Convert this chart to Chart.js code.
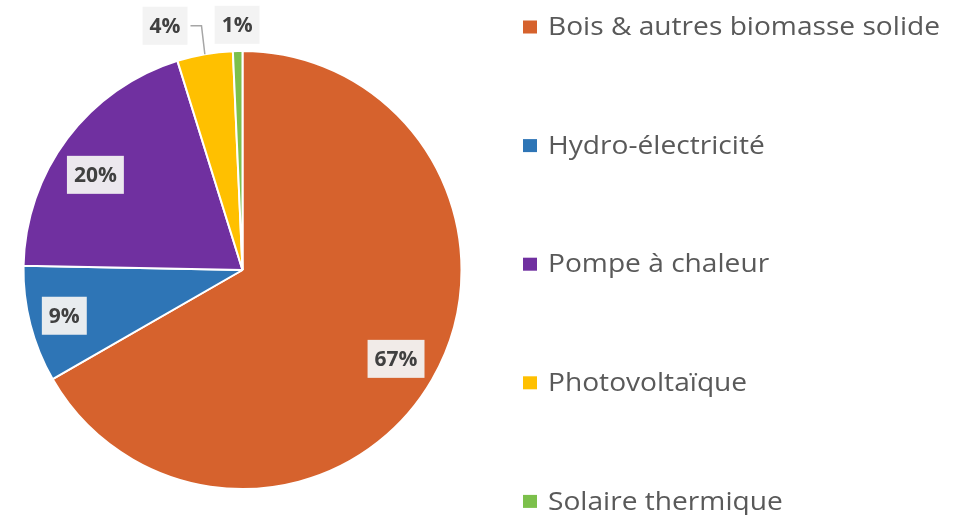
<!DOCTYPE html>
<html>
<head>
<meta charset="utf-8">
<script src="https://cdn.jsdelivr.net/npm/chart.js@4/dist/chart.umd.min.js"></script>
<style>
  html, body { margin: 0; padding: 0; background: #fff; }
  #wrap { width: 960px; height: 515px; }
</style>
</head>
<body>
<div id="wrap"><canvas id="pie" width="960" height="515"></canvas></div>
<script>
const categories = ["Bois & autres biomasse solide", "Hydro-électricité", "Pompe à chaleur", "Photovoltaïque", "Solaire thermique"];
const shares = [66.7, 8.6, 19.9, 4.1, 0.7];
const colors = ["#D6622D", "#2E75B6", "#7030A0", "#FFC000", "#7CC04B"];

// where each data label sits: fraction of radius, angle shift in degrees
const labelPlace = [
  { r: 0.81, da: 0 },
  { r: 0.84, da: 0 },
  { r: 0.80, da: -4 },
  { r: 1.17, da: -7.7, leader: true },
  { r: 1.12, da: 0 }
];

const labelsPlugin = {
  id: "pctLabels",
  afterDatasetsDraw(chart) {
    const ctx = chart.ctx;
    const meta = chart.getDatasetMeta(0);
    ctx.save();
    ctx.font = "bold 21px 'Open Sans', sans-serif";
    ctx.textAlign = "center";
    ctx.textBaseline = "middle";
    meta.data.forEach((arc, i) => {
      const p = labelPlace[i];
      const mid = (arc.startAngle + arc.endAngle) / 2;
      const a = mid + p.da * Math.PI / 180;
      const x = arc.x + Math.cos(a) * arc.outerRadius * p.r;
      const y = arc.y + Math.sin(a) * arc.outerRadius * p.r;
      const txt = Math.round(shares[i]) + "%";
      const w = ctx.measureText(txt).width + 14;
      const h = 38;
      if (p.leader) {
        const ex = arc.x + Math.cos(mid) * arc.outerRadius;
        const ey = arc.y + Math.sin(mid) * arc.outerRadius;
        ctx.strokeStyle = "#A6A6A6";
        ctx.lineWidth = 1.5;
        ctx.beginPath();
        ctx.moveTo(ex, ey);
        ctx.lineTo(x + w / 2 + 14, y);
        ctx.lineTo(x + w / 2 + 3, y);
        ctx.stroke();
      }
      ctx.fillStyle = "rgba(242,242,242,0.95)";
      ctx.fillRect(x - w / 2, y - h / 2, w, h);
      ctx.fillStyle = "#404040";
      ctx.fillText(txt, x, y + 1);
    });
    ctx.restore();
  }
};

const legendPlugin = {
  id: "sideLegend",
  afterDraw(chart) {
    const ctx = chart.ctx;
    ctx.save();
    ctx.font = "25px 'Open Sans', sans-serif";
    ctx.textBaseline = "middle";
    ctx.textAlign = "left";
    // stretch the first (longest) entry to about 392px like the original
    const full = ctx.measureText(categories[0]).width;
    const sx = 392 / full;
    categories.forEach((c, i) => {
      const y = 27 + i * 118.6;
      ctx.fillStyle = colors[i];
      ctx.fillRect(523, y - 6.5, 14, 13);
      ctx.fillStyle = "#595959";
      ctx.save();
      ctx.translate(548, y);
      ctx.scale(sx, 1);
      ctx.fillText(c, 0, 1);
      ctx.restore();
    });
    ctx.restore();
  }
};

new Chart(document.getElementById("pie"), {
  type: "pie",
  data: {
    labels: categories,
    datasets: [{
      data: shares,
      backgroundColor: colors,
      borderColor: "#fff",
      borderWidth: 2
    }]
  },
  options: {
    responsive: false,
    animation: false,
    layout: { padding: { left: 22, right: 497, top: 50, bottom: 25 } },
    plugins: { legend: { display: false }, tooltip: { enabled: false } }
  },
  plugins: [labelsPlugin, legendPlugin]
});
</script>
</body>
</html>
